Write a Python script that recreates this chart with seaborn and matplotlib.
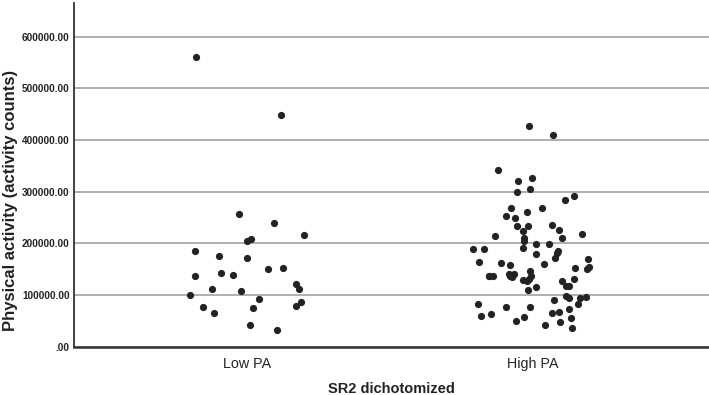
import numpy as np
import pandas as pd
import matplotlib
matplotlib.use("Agg")
import matplotlib.pyplot as plt
import seaborn as sns
from matplotlib.ticker import FuncFormatter, FixedLocator

categories = ["Low PA", "High PA"]

low_pa = [561000, 448000, 256600, 239900, 216700, 207700, 204500, 184600, 176200,
          171700, 150500, 151800, 138300, 137600, 142100, 122200, 111300, 107400,
          111900, 99700, 93200, 86800, 65600, 75900, 79100, 76500, 41800, 33400]

high_pa = [410600, 428000, 341700, 327600, 320000, 305000, 299000, 292000, 285000,
           269000, 268000, 253700, 260600, 248500, 235500, 234400, 233600, 227000,
           224700, 218900, 213700, 210400, 210400, 205400, 199600, 198300, 191900,
           189200, 190000, 186000, 179500, 181500, 170700, 171800, 164000, 159000,
           161000, 163000, 153900, 151300, 152500, 146000, 132000, 137800, 137800,
           132000, 126800, 136500, 136500, 140300, 134600, 141700, 137000, 130000,
           126800, 117800, 117800, 116600, 110800, 97900, 94600, 90700, 95400, 97300,
           83800, 81900, 76600, 76600, 72200, 67600, 63700, 65000, 58700, 49600,
           54800, 56800, 41300, 47700, 36100]

y_ticks = [0, 100000, 200000, 300000, 400000, 500000, 600000]

df = pd.DataFrame({
    "group": [categories[0]] * len(low_pa) + [categories[1]] * len(high_pa),
    "value": low_pa + high_pa,
})

sns.set_style("white")
plt.rcParams["font.family"] = ["Liberation Sans", "DejaVu Sans"]

fig = plt.figure(figsize=(7.09, 3.95), dpi=100)
ax = fig.add_axes([0.104, 0.122, 0.896, 0.870])

np.random.seed(7)
sns.stripplot(data=df, x="group", y="value", order=categories, jitter=0.21,
              color="#232323", size=5.2, linewidth=0, ax=ax, zorder=3)

ax.set_xlim(-0.605, 1.615)
ax.set_ylim(0, 665000)
ax.yaxis.set_major_locator(FixedLocator(y_ticks))

def fmt(v, pos):
    s = f"{v:.2f}"
    if s.startswith("0"):
        s = s[1:]
    return s

ax.yaxis.set_major_formatter(FuncFormatter(fmt))
ax.yaxis.grid(True, color="#9a9a9a", linewidth=1.1, zorder=0)
ax.set_axisbelow(True)

for side in ["top", "right"]:
    ax.spines[side].set_visible(False)
ax.spines["left"].set_color("#333333")
ax.spines["left"].set_linewidth(1.3)
ax.spines["bottom"].set_color("#333333")
ax.spines["bottom"].set_linewidth(1.8)

ax.tick_params(axis="both", length=0)
ax.tick_params(axis="y", pad=3)
ax.tick_params(axis="x", pad=7)
for lab in ax.get_yticklabels():
    lab.set_fontsize(7.2)
    lab.set_fontweight("bold")
    lab.set_color("#222222")
for lab in ax.get_xticklabels():
    lab.set_fontsize(10.3)
    lab.set_color("#222222")

ax.set_ylabel("Physical activity (activity counts)", fontsize=12.0,
              fontweight="bold", color="#222222")
ax.yaxis.set_label_coords(-0.088, 0.425)
ax.set_xlabel("SR2 dichotomized", fontsize=10.5, fontweight="bold",
              color="#222222", labelpad=8)

fig.savefig("out.png", dpi=100)
